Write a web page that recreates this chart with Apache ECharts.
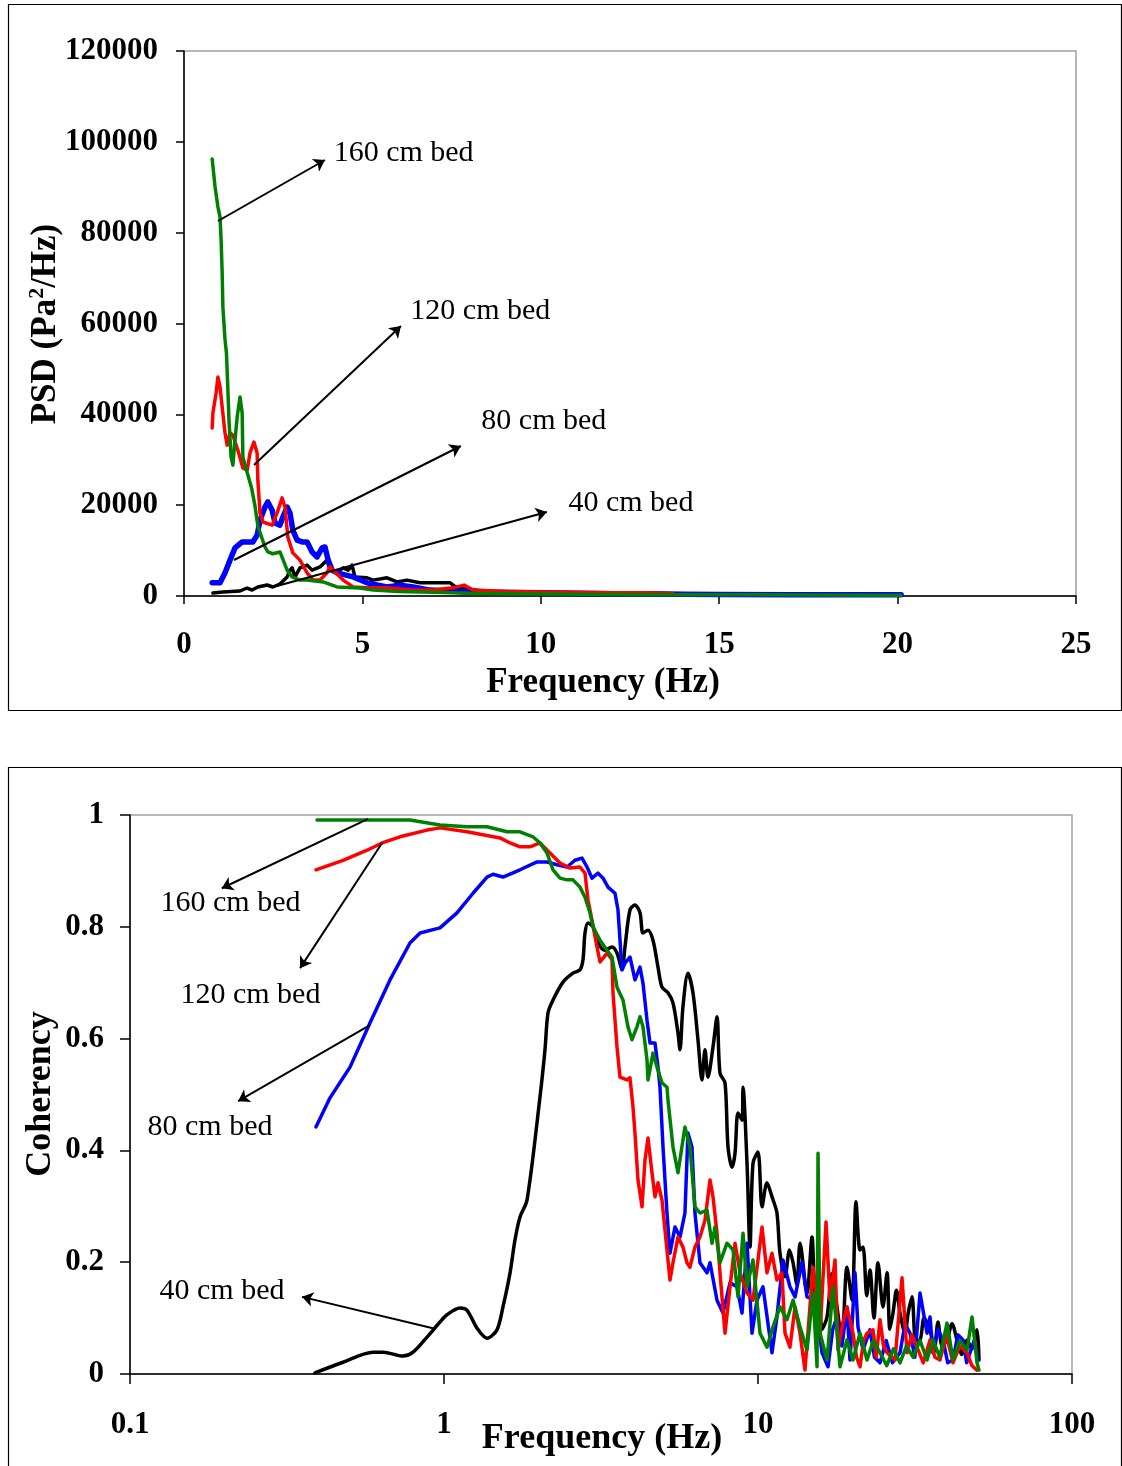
<!DOCTYPE html>
<html><head><meta charset="utf-8">
<script src="https://cdn.jsdelivr.net/npm/echarts@6/dist/echarts.min.js"></script>
<style>html,body{margin:0;padding:0;background:#fff}#c{width:1122px;height:1466px}</style>
</head><body><div id="c"></div>
<script>
// ---------- Top chart: PSD vs Frequency (Hz) ----------
const psdXTicks = [0, 5, 10, 15, 20, 25];
const psdYTicks = [0, 20000, 40000, 60000, 80000, 100000, 120000];

const psd40 = [[0.81,660],[1.09,880],[1.57,1100],[1.77,1760],[1.91,1320],[2.07,1980],[2.33,2420],[2.49,1980],[2.69,2640],[2.89,4200],[2.97,5700],[3.03,6200],[3.11,4200],[3.25,6200],[3.45,6800],[3.59,5700],[3.81,6400],[4.01,7900],[4.09,5700],[4.29,5300],[4.46,6200],[4.60,5700],[4.71,6800],[4.79,4200],[5.13,4000],[5.30,3500],[5.69,4000],[5.97,3100],[6.25,3500],[6.61,2900],[7.09,2900],[7.46,2900],[7.65,1800],[8.38,1100],[9.0,900],[10.0,800],[11.0,700],[12.0,700],[13.0,500],[14.0,500],[14.5,300]];
const psd80 = [[0.79,2900],[1.01,2900],[1.15,5100],[1.29,7900],[1.43,10600],[1.63,11900],[1.93,11900],[2.05,13400],[2.13,16700],[2.27,19600],[2.35,20700],[2.47,18900],[2.55,16100],[2.69,15600],[2.77,17400],[2.89,19600],[2.97,18300],[3.05,14500],[3.17,12300],[3.31,11900],[3.45,11900],[3.59,9700],[3.73,8600],[3.87,10600],[3.95,10800],[4.04,7900],[4.15,5700],[4.29,5100],[4.74,4200],[5.13,2900],[5.69,2000],[6.05,2400],[6.42,2000],[6.89,1300],[8.0,900],[9.0,800],[10.0,700],[11.0,600],[12.0,500],[13.0,500],[14.0,400],[15.0,350],[17.0,300],[20.1,250]];
const psd120 = [[0.79,37000],[0.81,40300],[0.90,44700],[0.95,48200],[1.01,46000],[1.07,41600],[1.15,35900],[1.21,33200],[1.29,35900],[1.37,35400],[1.51,32100],[1.65,28200],[1.77,27700],[1.85,31500],[1.96,33900],[2.05,31500],[2.07,25500],[2.13,18300],[2.21,16300],[2.47,15600],[2.61,18300],[2.75,21600],[2.83,19600],[2.91,13000],[3.05,9500],[3.25,7900],[3.45,5100],[3.62,3500],[3.81,3500],[4.01,5100],[4.09,6400],[4.46,3500],[4.74,2000],[5.13,1800],[5.69,1800],[6.42,1300],[6.98,1300],[7.54,1800],[7.85,2400],[8.10,1300],[9.0,1000],[10.0,900],[11.0,800],[12.0,700],[13.0,700],[13.7,500]];
const psd160 = [[0.79,96200],[0.87,90100],[0.95,85700],[1.01,83400],[1.04,78400],[1.07,71100],[1.09,63600],[1.15,56400],[1.19,53500],[1.23,45400],[1.26,38800],[1.32,30600],[1.37,28800],[1.43,34400],[1.49,39400],[1.57,43800],[1.63,40300],[1.65,30600],[1.76,27500],[1.90,23600],[1.99,19800],[2.07,15400],[2.19,12600],[2.27,10800],[2.35,9700],[2.49,9300],[2.69,9700],[2.77,8100],[2.89,5700],[3.03,4200],[3.25,3500],[3.45,3500],[3.90,3100],[4.29,2000],[4.93,1750],[5.30,1300],[6.0,1000],[7.0,800],[8.0,600],[9.0,500],[10.0,450],[12.0,350],[14.0,300],[16.0,250],[18.0,200],[20.1,150]];

const psdLabels = ['160 cm bed', '120 cm bed', '80 cm bed', '40 cm bed'];
const psdArrowFrom = [[0.953,82570],[1.962,28840],[1.401,7930],[2.606,2200]];
const psdArrowTo   = [[3.95,96000],[6.08,59450],[7.76,33030],[10.17,18500]];
const psdLabelAt   = [[4.18,97540],[6.33,62750],[8.32,38530],[10.76,20480]];

// ---------- Bottom chart: Coherency vs Frequency (Hz), log x ----------
const cohXTicks = [0.1, 1, 10, 100];
const cohYTicks = [0, 0.2, 0.4, 0.6, 0.8, 1];

const coh40 = [[0.388,0.002],[0.477,0.021],[0.594,0.039],[0.640,0.039],[0.740,0.032],[0.797,0.039],[0.883,0.066],[0.971,0.093],[1.022,0.106],[1.124,0.118],[1.184,0.114],[1.274,0.082],[1.371,0.064],[1.475,0.079],[1.541,0.120],[1.623,0.181],[1.683,0.240],[1.746,0.281],[1.838,0.311],[2.022,0.496],[2.097,0.580],[2.144,0.646],[2.224,0.669],[2.393,0.701],[2.575,0.717],[2.710,0.723],[2.771,0.741],[2.812,0.789],[2.875,0.807],[2.982,0.800],[3.094,0.771],[3.257,0.758],[3.428,0.764],[3.556,0.753],[3.689,0.723],[3.770,0.764],[3.911,0.830],[4.057,0.839],[4.209,0.825],[4.303,0.789],[4.464,0.794],[4.630,0.776],[4.803,0.728],[4.946,0.692],[5.168,0.682],[5.361,0.664],[5.561,0.610],[5.643,0.580],[5.768,0.657],[5.983,0.717],[6.207,0.682],[6.439,0.598],[6.631,0.526],[6.779,0.580],[6.930,0.531],[7.190,0.585],[7.404,0.639],[7.568,0.538],[7.851,0.521],[8.026,0.406],[8.265,0.370],[8.449,0.395],[8.637,0.467],[8.894,0.454],[8.960,0.513],[9.226,0.377],[9.430,0.227],[9.640,0.377],[10.0,0.397],[10.30,0.299],[10.68,0.342],[11.08,0.317],[11.49,0.288],[11.75,0.216],[12.19,0.174],[12.60,0.222],[12.93,0.199],[13.30,0.160],[13.61,0.234],[14.32,0.145],[14.86,0.245],[15.20,0.140],[15.53,0.181],[16.00,0.080],[16.59,0.102],[17.20,0.180],[17.85,0.120],[18.50,0.060],[19.20,0.191],[19.93,0.132],[20.52,0.308],[21.13,0.222],[21.60,0.227],[22.20,0.140],[22.73,0.186],[23.40,0.100],[24.11,0.199],[25.01,0.120],[25.76,0.181],[26.30,0.080],[26.91,0.109],[27.60,0.150],[28.33,0.109],[29.39,0.073],[30.10,0.110],[30.94,0.138],[31.80,0.060],[32.81,0.061],[33.80,0.100],[35.31,0.079],[36.40,0.040],[37.43,0.093],[38.60,0.050],[39.99,0.061],[41.50,0.090],[43.03,0.061],[44.60,0.035],[46.31,0.061],[48.00,0.045],[49.83,0.079],[50.56,0.025]];
const coh80 = [[0.391,0.442],[0.4335,0.494],[0.502,0.549],[0.581,0.628],[0.673,0.705],[0.779,0.771],[0.839,0.789],[0.971,0.798],[1.100,0.825],[1.237,0.860],[1.371,0.889],[1.432,0.894],[1.541,0.889],[1.746,0.902],[1.978,0.916],[2.128,0.916],[2.290,0.911],[2.465,0.907],[2.613,0.919],[2.751,0.923],[2.854,0.907],[2.960,0.887],[3.094,0.896],[3.210,0.887],[3.329,0.871],[3.504,0.860],[3.582,0.830],[3.635,0.776],[3.689,0.723],[3.770,0.735],[3.911,0.746],[4.057,0.705],[4.209,0.728],[4.303,0.699],[4.431,0.633],[4.530,0.592],[4.699,0.592],[4.803,0.549],[4.874,0.513],[4.983,0.406],[5.130,0.288],[5.244,0.216],[5.440,0.263],[5.643,0.245],[5.853,0.288],[5.983,0.431],[6.161,0.406],[6.298,0.288],[6.535,0.199],[6.880,0.181],[7.034,0.199],[7.404,0.132],[7.736,0.109],[8.145,0.163],[8.574,0.156],[8.894,0.109],[9.226,0.234],[9.570,0.073],[9.927,0.132],[10.37,0.156],[11.08,0.038],[11.49,0.102],[12.01,0.204],[12.64,0.156],[13.12,0.138],[13.81,0.200],[14.32,0.138],[15.19,0.132],[15.99,0.038],[16.71,0.013],[17.30,0.080],[17.85,0.102],[18.50,0.050],[19.20,0.120],[19.63,0.025],[20.37,0.181],[20.82,0.084],[21.60,0.043],[22.73,0.079],[23.50,0.030],[24.47,0.020],[25.60,0.060],[26.80,0.020],[28.33,0.038],[29.40,0.090],[30.49,0.073],[31.60,0.030],[32.81,0.145],[34.54,0.073],[35.31,0.102],[36.08,0.038],[37.40,0.080],[38.83,0.061],[40.20,0.020],[41.78,0.025],[43.30,0.070],[44.97,0.061],[46.20,0.020],[47.34,0.038],[48.80,0.060],[50.19,0.025]];
const coh120 = [[0.391,0.902],[0.477,0.919],[0.569,0.937],[0.635,0.950],[0.724,0.961],[0.883,0.973],[0.971,0.977],[1.184,0.970],[1.508,0.959],[1.623,0.950],[1.746,0.943],[1.879,0.943],[2.022,0.950],[2.175,0.932],[2.341,0.914],[2.519,0.905],[2.710,0.907],[2.812,0.896],[2.875,0.848],[2.960,0.812],[3.071,0.764],[3.140,0.737],[3.305,0.753],[3.428,0.741],[3.453,0.682],[3.556,0.585],[3.635,0.531],[3.826,0.526],[3.911,0.530],[3.998,0.478],[4.057,0.431],[4.148,0.347],[4.272,0.299],[4.366,0.383],[4.464,0.422],[4.596,0.360],[4.699,0.317],[4.803,0.342],[4.946,0.311],[5.055,0.258],[5.244,0.168],[5.361,0.199],[5.561,0.245],[5.768,0.227],[5.940,0.199],[6.071,0.191],[6.298,0.227],[6.535,0.245],[6.779,0.275],[7.034,0.347],[7.190,0.317],[7.404,0.252],[7.568,0.181],[7.851,0.073],[8.145,0.156],[8.449,0.234],[8.765,0.181],[9.226,0.145],[9.640,0.132],[10.30,0.263],[10.68,0.181],[11.08,0.216],[11.49,0.168],[11.92,0.181],[12.19,0.073],[12.64,0.048],[13.12,0.120],[13.61,0.073],[14.11,0.007],[14.42,0.073],[14.97,0.191],[15.76,0.073],[16.47,0.272],[16.95,0.132],[17.59,0.204],[17.98,0.043],[18.60,0.090],[19.20,0.120],[20.07,0.073],[20.60,0.030],[21.13,0.013],[21.70,0.060],[22.24,0.073],[23.24,0.079],[23.80,0.030],[24.47,0.097],[25.10,0.050],[25.76,0.038],[27.31,0.025],[28.75,0.172],[29.82,0.038],[30.90,0.070],[32.09,0.048],[33.60,0.020],[35.31,0.061],[36.60,0.030],[37.98,0.025],[39.80,0.070],[41.78,0.020],[43.90,0.050],[46.31,0.038],[48.00,0.015],[49.83,0.007]];
const coh160 = [[0.394,0.991],[0.779,0.991],[0.971,0.982],[1.184,0.979],[1.371,0.979],[1.587,0.970],[1.746,0.970],[1.920,0.961],[2.022,0.950],[2.128,0.932],[2.224,0.902],[2.341,0.887],[2.465,0.884],[2.575,0.884],[2.710,0.871],[2.812,0.853],[2.917,0.825],[2.982,0.800],[3.140,0.776],[3.305,0.758],[3.428,0.746],[3.556,0.692],[3.715,0.669],[3.854,0.621],[3.969,0.598],[4.117,0.621],[4.209,0.639],[4.303,0.621],[4.431,0.562],[4.464,0.526],[4.630,0.574],[4.768,0.549],[4.946,0.521],[5.130,0.513],[5.168,0.490],[5.361,0.406],[5.561,0.360],[5.853,0.442],[6.071,0.406],[6.298,0.299],[6.535,0.288],[6.880,0.293],[7.138,0.234],[7.297,0.263],[7.568,0.199],[7.967,0.234],[8.326,0.222],[8.637,0.138],[8.960,0.252],[9.226,0.156],[9.640,0.204],[10.15,0.073],[10.68,0.048],[11.16,0.084],[11.75,0.120],[12.37,0.097],[12.93,0.132],[13.61,0.084],[14.32,0.043],[14.97,0.145],[15.42,0.013],[15.53,0.395],[15.76,0.073],[16.59,0.025],[17.33,0.156],[18.25,0.013],[19.20,0.061],[20.07,0.025],[21.13,0.073],[22.24,0.025],[23.30,0.060],[24.47,0.038],[25.70,0.015],[27.00,0.045],[28.33,0.020],[29.70,0.050],[31.17,0.030],[32.80,0.060],[34.54,0.025],[36.08,0.061],[37.90,0.030],[39.99,0.091],[41.78,0.025],[43.90,0.060],[46.31,0.043],[48.04,0.102],[49.83,0.020],[50.56,0.007]];

const cohLabels = ['160 cm bed', '120 cm bed', '80 cm bed', '40 cm bed'];
const cohArrowFrom = [[0.573,0.993],[0.635,0.950],[0.581,0.624],[0.943,0.0805]];
const cohArrowTo   = [[0.196,0.869],[0.348,0.726],[0.221,0.488],[0.353,0.138]];
const cohLabelAt   = [[0.1246,0.843],[0.1442,0.678],[0.1133,0.442],[0.1237,0.148]];

// ---------- build chart ----------
const FONT = '"Liberation Serif", "Times New Roman", serif';
const chart = echarts.init(document.getElementById('c'), null, {renderer: 'canvas'});

function line(name, data, color, width, gi, smooth) {
  return {
    name, type: 'line', data, xAxisIndex: gi, yAxisIndex: gi,
    showSymbol: false, symbol: 'none', smooth: smooth || false,
    lineStyle: {color, width, join: 'round', cap: 'round'}, itemStyle: {color},
    clip: true, silent: true, animation: false
  };
}
function annotate(series, from, to, labels, at) {
  series.markLine = {
    silent: true, animation: false, symbol: ['none', 'arrow'], symbolSize: 11,
    lineStyle: {color: '#000', width: 2, type: 'solid'},
    label: {show: false}, emphasis: {disabled: true},
    data: from.map((f, i) => [{coord: f}, {coord: to[i]}])
  };
  series.markPoint = {
    silent: true, animation: false, symbol: 'circle', symbolSize: 1,
    itemStyle: {color: 'rgba(0,0,0,0)'},
    label: {show: true, position: 'right', distance: 0, formatter: '{b}',
            color: '#000', fontSize: 30, fontFamily: FONT},
    data: labels.map((l, i) => ({name: l, coord: at[i]}))
  };
  return series;
}

const tickLabel = {color: '#000', fontSize: 31, fontWeight: 'bold', fontFamily: FONT};
const plain = v => String(v);

const s160top = annotate(line('160 cm bed', psd160, '#008000', 3.5, 0), psdArrowFrom, psdArrowTo, psdLabels, psdLabelAt);
const s160bot = annotate(line('160 cm bed', coh160, '#008000', 3.5, 1), cohArrowFrom, cohArrowTo, cohLabels, cohLabelAt);

chart.setOption({
  animation: false,
  backgroundColor: '#fff',
  grid: [
    {left: 184, top: 51, width: 892, height: 545, show: true, borderColor: '#a0a0a0', borderWidth: 1.5, backgroundColor: 'transparent'},
    {left: 130, top: 815, width: 942, height: 559, show: true, borderColor: '#a0a0a0', borderWidth: 1.5, backgroundColor: 'transparent'}
  ],
  xAxis: [
    {type: 'value', gridIndex: 0, min: psdXTicks[0], max: psdXTicks[psdXTicks.length - 1], interval: psdXTicks[1] - psdXTicks[0],
     axisLine: {show: true, onZero: false, lineStyle: {color: '#000', width: 1.5}},
     axisTick: {show: true, inside: false, length: 8, lineStyle: {color: '#000', width: 1.5}},
     axisLabel: Object.assign({margin: 33, showMinLabel: true, showMaxLabel: true, formatter: plain}, tickLabel),
     splitLine: {show: false}},
    {type: 'log', gridIndex: 1, logBase: 10, min: cohXTicks[0], max: cohXTicks[cohXTicks.length - 1],
     axisLine: {show: true, onZero: false, lineStyle: {color: '#000', width: 1.5}},
     axisTick: {show: true, inside: false, length: 10, lineStyle: {color: '#000', width: 1.5}},
     minorTick: {show: false},
     axisLabel: Object.assign({margin: 35, showMinLabel: true, showMaxLabel: true}, tickLabel),
     splitLine: {show: false}}
  ],
  yAxis: [
    {type: 'value', gridIndex: 0, min: psdYTicks[0], max: psdYTicks[psdYTicks.length - 1], interval: psdYTicks[1] - psdYTicks[0],
     axisLine: {show: true, onZero: false, lineStyle: {color: '#000', width: 1.5}},
     axisTick: {show: true, inside: false, length: 8, lineStyle: {color: '#000', width: 1.5}},
     axisLabel: Object.assign({margin: 26, formatter: plain, padding: [5, 0, 0, 0]}, tickLabel),
     splitLine: {show: false}},
    {type: 'value', gridIndex: 1, min: cohYTicks[0], max: cohYTicks[cohYTicks.length - 1], interval: cohYTicks[1] - cohYTicks[0],
     axisLine: {show: true, onZero: false, lineStyle: {color: '#000', width: 1.5}},
     axisTick: {show: true, inside: false, length: 10, lineStyle: {color: '#000', width: 1.5}},
     axisLabel: Object.assign({margin: 26, padding: [4, 0, 0, 0]}, tickLabel),
     splitLine: {show: false}}
  ],
  series: [
    line('40 cm bed', psd40, '#000000', 3.5, 0),
    line('80 cm bed', psd80, '#0000ff', 5.5, 0),
    line('120 cm bed', psd120, '#ff0000', 3.5, 0),
    s160top,
    line('40 cm bed', coh40, '#000000', 3.5, 1, 0.3),
    line('80 cm bed', coh80, '#0000ff', 3.5, 1),
    line('120 cm bed', coh120, '#ff0000', 3.5, 1),
    s160bot
  ],
  graphic: [
    {type: 'rect', silent: true, z: 0, shape: {x: 8.5, y: 4.5, width: 1113, height: 706}, style: {fill: 'none', stroke: '#000', lineWidth: 1.2}},
    {type: 'rect', silent: true, z: 0, shape: {x: 8.5, y: 767.5, width: 1113, height: 720}, style: {fill: 'none', stroke: '#000', lineWidth: 1.2}},
    {type: 'text', silent: true, x: 603, y: 683, style: {text: 'Frequency (Hz)', align: 'center', verticalAlign: 'middle', fill: '#000', font: 'bold 35px ' + FONT}},
    {type: 'text', silent: true, x: 602, y: 1439, style: {text: 'Frequency (Hz)', align: 'center', verticalAlign: 'middle', fill: '#000', font: 'bold 36px ' + FONT}},
    {type: 'text', silent: true, x: 46, y: 324, rotation: Math.PI / 2,
     style: {text: '{b|PSD (Pa}{s|2}{b|/Hz)}', align: 'center', verticalAlign: 'middle', fill: '#000',
             rich: {b: {fontSize: 35, fontWeight: 'bold', fontFamily: FONT, fill: '#000'},
                    s: {fontSize: 22, fontWeight: 'bold', fontFamily: FONT, fill: '#000', padding: [0, 0, 18, 0]}}}},
    {type: 'text', silent: true, x: 41, y: 1094, rotation: Math.PI / 2,
     style: {text: 'Coherency', align: 'center', verticalAlign: 'middle', fill: '#000', font: 'bold 36px ' + FONT}}
  ]
});
</script></body></html>
